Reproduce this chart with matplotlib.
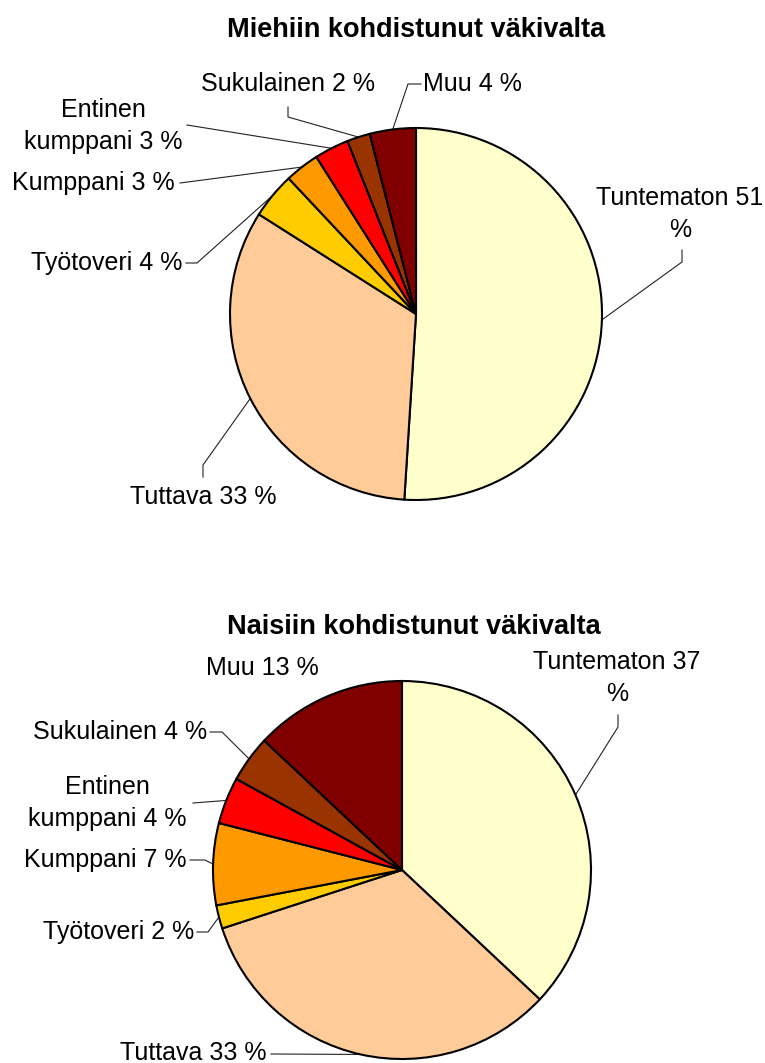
import matplotlib.pyplot as plt
import numpy as np

plt.rcParams['font.family'] = ['Liberation Sans', 'DejaVu Sans']

W, H = 765, 1063

categories = ["Tuntematon", "Tuttava", "Työtoveri", "Kumppani",
              "Entinen\nkumppani", "Sukulainen", "Muu"]
men_pct = [51, 33, 4, 3, 3, 2, 4]
women_pct = [37, 33, 2, 7, 4, 4, 13]
colors = ["#FFFFCC", "#FFCC99", "#FFCC00", "#FF9900", "#FF0000", "#993300", "#800000"]
titles = ["Miehiin kohdistunut väkivalta", "Naisiin kohdistunut väkivalta"]

# layout in pixel coords (y measured from top)
# per label: (x, y, ha, elbow points before reaching the pie edge)
men_layout = dict(
    center=(416, 314), radius=186, title=(416, 30),
    labels=[
        (680, 214, "center", [(682, 250), (682, 262)]),
        (203, 497, "center", [(203, 477), (203, 465)]),
        (182, 263, "right", [(186, 263), (197, 263)]),
        (175, 183, "right", [(180, 183)]),
        (103, 126, "center", [(187, 125)]),
        (288, 84, "center", [(288, 107), (288, 117)]),
        (423, 84, "left", [(421, 84), (408, 84)]),
    ])
women_layout = dict(
    center=(402, 870), radius=189, title=(414, 627),
    labels=[
        (617, 678, "center", [(618, 715), (618, 727)]),
        (267, 1053, "right", [(271, 1054)]),
        (194, 932, "right", [(197, 932), (208, 932)]),
        (187, 860, "right", [(190, 860), (205, 860)]),
        (107, 803, "center", [(193, 803)]),
        (207, 732, "right", [(210, 732), (222, 732)]),
        (262, 668, "center", None),
    ])

fig = plt.figure(figsize=(W / 100, H / 100), dpi=100)
ax = fig.add_axes([0, 0, 1, 1])


def draw_pie(vals, title, lay):
    cx, cy = lay["center"]
    r = lay["radius"]
    wedges, _ = ax.pie(vals, colors=colors, startangle=90, counterclock=False,
                       center=(cx, H - cy), radius=r, frame=True,
                       wedgeprops=dict(edgecolor="black", linewidth=1.5))
    ax.text(lay["title"][0], H - lay["title"][1], title, fontsize=19.5,
            fontweight="bold", ha="center", va="center")
    for cat, v, w, (lx, ly, ha, elbow) in zip(categories, vals, wedges, lay["labels"]):
        txt = f"{cat} {v} %"
        if cat == "Tuntematon":
            txt = f"{cat} {v}\n%"
        ax.text(lx, H - ly, txt, fontsize=18, ha=ha, va="center",
                multialignment="center", linespacing=1.4)
        if elbow is None:
            continue
        mid = np.deg2rad((w.theta1 + w.theta2) / 2)
        px = cx + r * np.cos(mid)
        py = (H - cy) + r * np.sin(mid)
        xs = [p[0] for p in elbow] + [px]
        ys = [H - p[1] for p in elbow] + [py]
        ax.plot(xs, ys, color="#222222", linewidth=0.8, zorder=0.5)


draw_pie(men_pct, titles[0], men_layout)
draw_pie(women_pct, titles[1], women_layout)

ax.set_xlim(0, W)
ax.set_ylim(0, H)
ax.axis("off")

fig.savefig("out.png", dpi=100, facecolor="white")
